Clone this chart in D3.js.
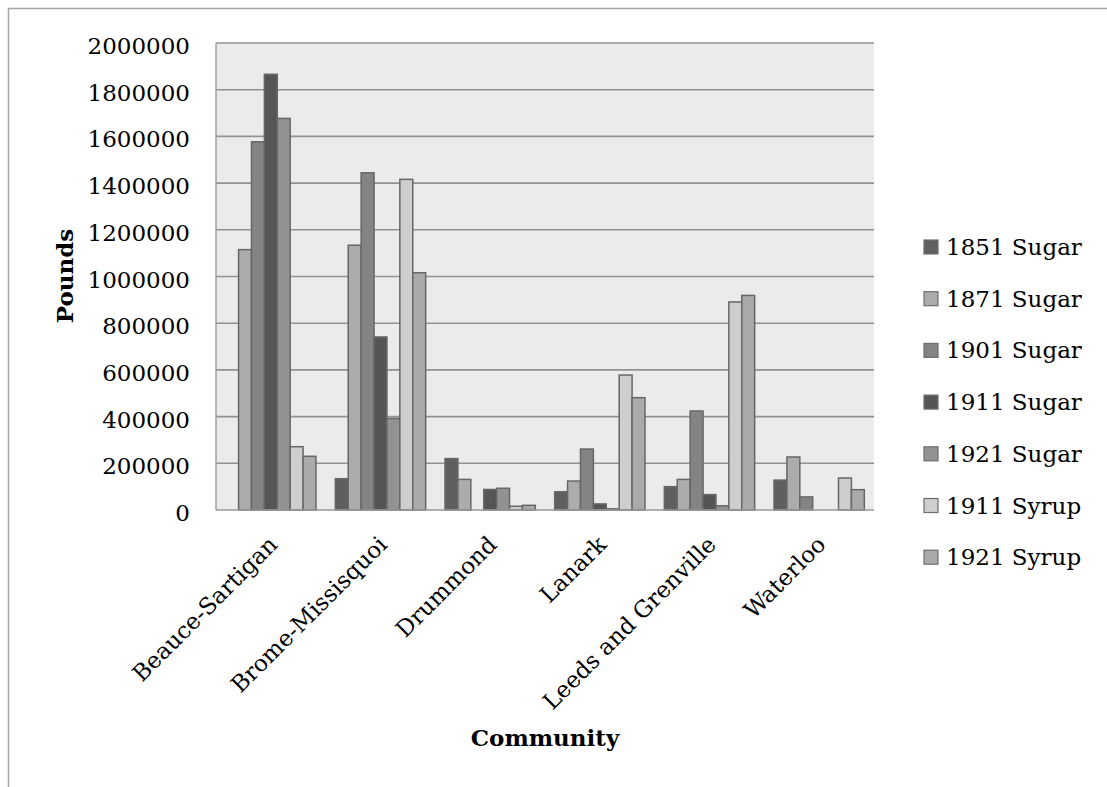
<!DOCTYPE html>
<html>
<head>
<meta charset="utf-8">
<script src="https://d3js.org/d3.v7.min.js"></script>
<style>
  html, body { margin: 0; padding: 0; background: #fff; }
  svg { display: block; }
  text { font-family: "DejaVu Serif", "Liberation Serif", serif; fill: #000; }
</style>
</head>
<body>
<svg id="chart" width="1107" height="787"></svg>
<script>
// Communities on the category axis
const categories = ["Beauce-Sartigan", "Brome-Missisquoi", "Drummond", "Lanark", "Leeds and Grenville", "Waterloo"];

// Series names (census year and product)
const seriesNames = ["1851 Sugar", "1871 Sugar", "1901 Sugar", "1911 Sugar", "1921 Sugar", "1911 Syrup", "1921 Syrup"];

// Production in pounds, one value per community
const sugar1851 = [0, 134000, 220000, 78000, 100000, 128000];
const sugar1871 = [1115000, 1134000, 131000, 124000, 131000, 227000];
const sugar1901 = [1577000, 1444000, 0, 261000, 424000, 56000];
const sugar1911 = [1866000, 741000, 88000, 26000, 66000, 0];
const sugar1921 = [1677000, 392000, 93000, 5000, 18000, 0];
const syrup1911 = [271000, 1416000, 16000, 578000, 891000, 137000];
const syrup1921 = [230000, 1016000, 20000, 481000, 919000, 87000];

// Value-axis tick labels
const yTicks = [0, 200000, 400000, 600000, 800000, 1000000, 1200000, 1400000, 1600000, 1800000, 2000000];

const seriesValues = [sugar1851, sugar1871, sugar1901, sugar1911, sugar1921, syrup1911, syrup1921];
const fills = ["#5f5f5f", "#acacac", "#848484", "#555555", "#929292", "#cecece", "#aaaaaa"];

const svg = d3.select("#chart");

// Outer chart frame
svg.append("rect")
  .attr("x", 8.5).attr("y", 8.5)
  .attr("width", 1120).attr("height", 800)
  .attr("fill", "none").attr("stroke", "#a6a6a6").attr("stroke-width", 1.5);

const plot = { left: 216, right: 874, top: 43, bottom: 510 };

const x0 = d3.scaleBand().domain(categories).range([plot.left, plot.right]).padding(0);
const x1 = d3.scaleBand().domain(seriesNames).range([0, x0.bandwidth()])
  .paddingInner(0).paddingOuter(0.75);
const y = d3.scaleLinear().domain([0, 2000000]).range([plot.bottom, plot.top]);

// Plot background
svg.append("rect")
  .attr("x", plot.left).attr("y", plot.top)
  .attr("width", plot.right - plot.left).attr("height", plot.bottom - plot.top)
  .attr("fill", "#ebebeb");

// Horizontal gridlines
svg.append("g").selectAll("line")
  .data(yTicks.filter(d => d > 0))
  .join("line")
  .attr("x1", plot.left).attr("x2", plot.right)
  .attr("y1", d => y(d)).attr("y2", d => y(d))
  .attr("stroke", "#929292").attr("stroke-width", 1.6);

// Left axis line
svg.append("line")
  .attr("x1", plot.left).attr("x2", plot.left)
  .attr("y1", plot.top).attr("y2", plot.bottom)
  .attr("stroke", "#a0a0a0").attr("stroke-width", 1.5);

// Bars
const groups = svg.append("g").selectAll("g")
  .data(categories)
  .join("g")
  .attr("transform", d => `translate(${x0(d)},0)`);

groups.selectAll("rect")
  .data((c, ci) => seriesNames.map((s, si) => ({ s, si, v: seriesValues[si][ci] })))
  .join("rect")
  .filter(d => d.v > 0)
  .attr("x", d => x1(d.s))
  .attr("y", d => y(d.v))
  .attr("width", x1.bandwidth())
  .attr("height", d => y(0) - y(d.v))
  .attr("fill", d => fills[d.si])
  .attr("stroke", "#676767")
  .attr("stroke-width", 1.5);

// Category axis baseline
svg.append("line")
  .attr("x1", plot.left).attr("x2", plot.right)
  .attr("y1", plot.bottom).attr("y2", plot.bottom)
  .attr("stroke", "#9a9a9a").attr("stroke-width", 1.6);

// Value axis labels
svg.append("g").selectAll("text")
  .data(yTicks)
  .join("text")
  .attr("x", 190)
  .attr("y", d => y(d) + 3)
  .attr("dy", "0.35em")
  .attr("text-anchor", "end")
  .attr("font-size", 23)
  .text(d => d3.format("d")(d));

// Category labels, rotated
svg.append("g").selectAll("text")
  .data(categories)
  .join("text")
  .attr("text-anchor", "end")
  .attr("font-size", 23)
  .attr("transform", d => `translate(${x0(d) + x0.bandwidth() / 2 + 8},${plot.bottom + 36}) rotate(-45)`)
  .text(d => d);

// Axis titles
svg.append("text")
  .attr("transform", `translate(73,276) rotate(-90)`)
  .attr("text-anchor", "middle")
  .attr("font-size", 23)
  .attr("font-weight", "bold")
  .text("Pounds");

svg.append("text")
  .attr("x", 545).attr("y", 746)
  .attr("text-anchor", "middle")
  .attr("font-size", 23)
  .attr("font-weight", "bold")
  .text("Community");

// Legend
const legend = svg.append("g").selectAll("g")
  .data(seriesNames)
  .join("g")
  .attr("transform", (d, i) => `translate(924,${247 + i * 51.7})`);

legend.append("rect")
  .attr("x", 0).attr("y", -7)
  .attr("width", 14).attr("height", 14)
  .attr("fill", (d, i) => fills[i])
  .attr("stroke", "#6e6e6e").attr("stroke-width", 1.2);

legend.append("text")
  .attr("x", 22).attr("y", 0)
  .attr("dy", "0.35em")
  .attr("font-size", 23)
  .text(d => d);
</script>
</body>
</html>
